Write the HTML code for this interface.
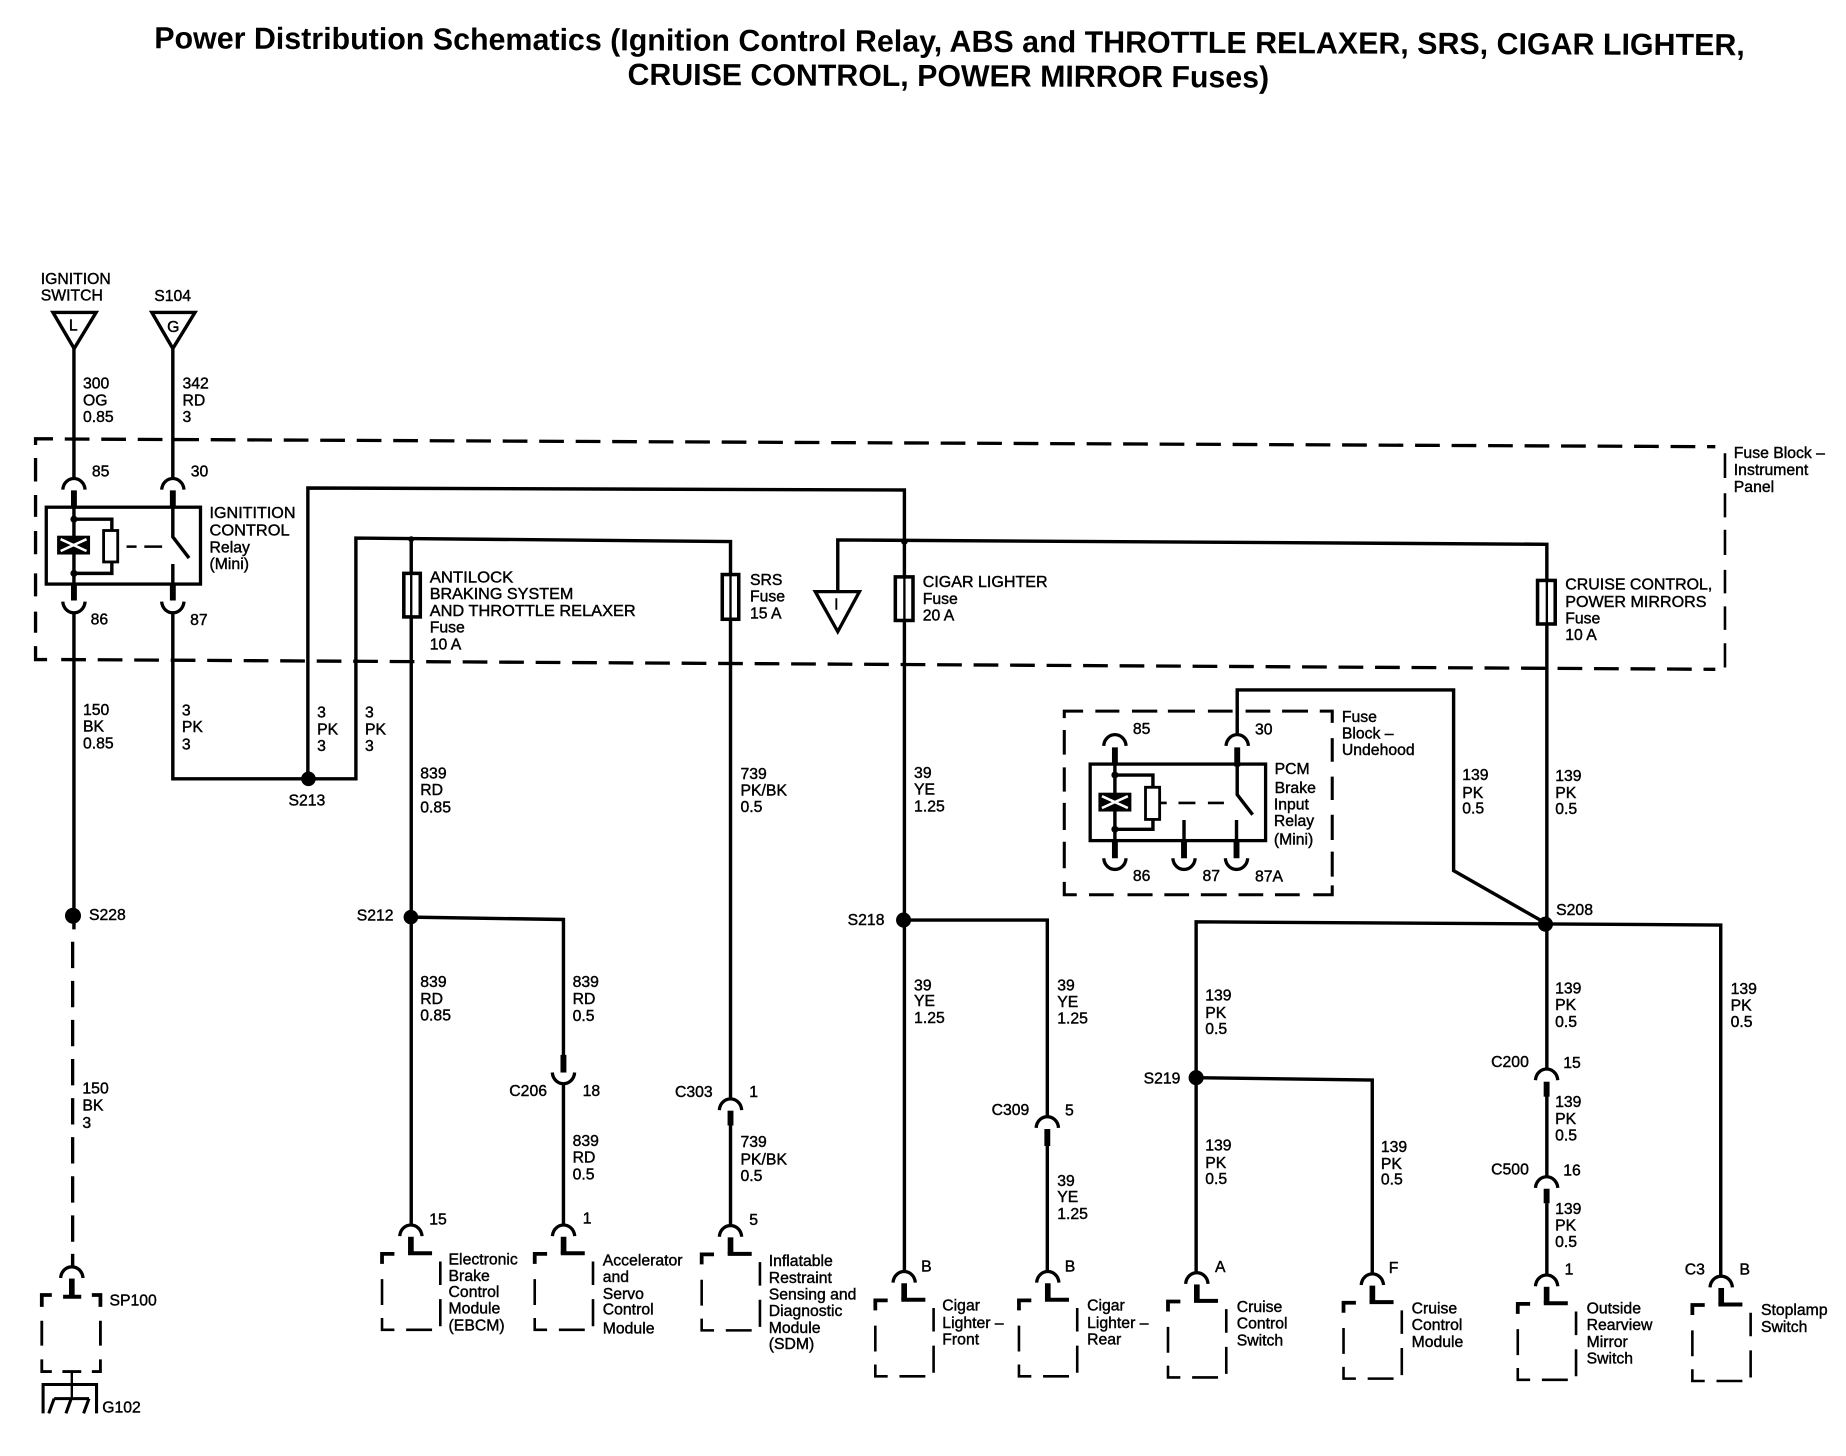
<!DOCTYPE html>
<html><head><meta charset="utf-8"><title>Power Distribution Schematics</title>
<style>
html,body{margin:0;padding:0;background:#fff}
svg{display:block}
text{font-family:"Liberation Sans",Arial,sans-serif;font-size:13.4px;fill:#000;stroke:#000;stroke-width:.35;dominant-baseline:central}
.t{font-weight:bold;font-size:26px;dominant-baseline:auto;stroke:none}
.w{fill:none;stroke:#000;stroke-width:2.9}
.k{fill:none;stroke:#000;stroke-width:5}
.d{fill:none;stroke:#000;stroke-width:2.8;stroke-dasharray:21 10}
</style></head><body>
<svg xmlns="http://www.w3.org/2000/svg" width="1846" height="1456" viewBox="0 0 1568 1236.7">
<defs>
<path id="a" d="M-9.5 9.5C-9 3-4 0 0 0C4 0 9 3 9.5 9.5" fill="none" stroke="#000" stroke-width="2.8"/>
<path id="b" d="M-9.5 0C-9 6.5-4 9.5 0 9.5C4 9.5 9 6.5 9.5 0" fill="none" stroke="#000" stroke-width="2.8"/>
<g id="m" fill="none" stroke="#000">
<use href="#a"/>
<path d="M0 10V24" stroke-width="4.8"/>
<path d="M-2.4 24H18" stroke-width="3.4"/>
<path d="M-24.5 33V24.5H-14" stroke-width="3.2"/>
<path d="M-24.5 46V68M-24.5 79V89H-14M-4 89H18M25 31V51M25 63V86" stroke-width="2.2"/>
</g>
<g id="x"><rect x="0" y="0" width="28" height="16" fill="#000"/><path d="M3 3L25 13M3 13L25 3" stroke="#fff" stroke-width="2.2"/></g>
</defs>
<rect width="1568" height="1237" fill="#fff"/>

<!-- Title -->
<text class="t" x="131" y="41" textLength="1351" lengthAdjust="spacingAndGlyphs" transform="rotate(.25 131 41)">Power Distribution Schematics (Ignition Control Relay, ABS and THROTTLE RELAXER, SRS, CIGAR LIGHTER,</text>
<text class="t" x="533" y="72" textLength="545" lengthAdjust="spacingAndGlyphs" transform="rotate(.25 533 72)">CRUISE CONTROL, POWER MIRROR Fuses)</text>

<!-- Main dashed fuse block -->
<path class="d" d="M55 372.9L1457 379.4M52 560.2L1457 568.5"/>
<path d="M45 372.7H30.2V378M30.2 389V409M30.2 420.4V439M30.2 451V470.8M30.2 487V506.5M30.2 519.5V537.4M30.2 548.8V560.2H40" fill="none" stroke="#000" stroke-width="2.8"/>
<path d="M1465.2 385V406M1465.2 419V439.4M1465.2 450V471.4M1465.2 484V504M1465.2 515V535M1465.2 546.4V567" fill="none" stroke="#000" stroke-width="2.2"/>
<text x="1472.7" y="385">Fuse Block –</text>
<text x="1472.7" y="399.7">Instrument</text>
<text x="1472.7" y="413.9">Panel</text>

<!-- Ignition triangles -->
<path class="w" d="M45 265.4H81.6L63 296Z"/>
<path class="w" d="M129 265.4H165.6L146.8 296Z"/>
<text x="58.5" y="277" font-size="12">L</text>
<text x="142" y="278">G</text>
<text x="34.6" y="237.4">IGNITION</text>
<text x="34.6" y="251.4">SWITCH</text>
<text x="131" y="252">S104</text>

<!-- Wires -->
<g class="w">
<path class="w" d="M62.8 296V406M146.8 296V406"/>
<path class="w" d="M62.8 521V789.4"/>
<path class="w" d="M146.8 521V661.5H302.3V457L620.5 460V933M620.5 956V1041"/>
<path class="w" d="M349.3 457.5V1041"/>
<path class="w" d="M261.5 661.5V414.5L768.2 416.2V1080"/>
<path class="w" d="M711.6 502V458.6L1313.9 462.3V908M1313.9 931V999.5M1313.9 1022V1083"/>
<path class="w" d="M349 779L478.6 781V897M478.6 920V1041"/>
<path class="w" d="M767 781.5H889.6V948.5M889.6 973V1080"/>
<path class="w" d="M1016 1081V783L1461.6 785.7V1084"/>
<path class="w" d="M1016 915.4L1165.6 917.4V1082"/>
<path class="w" d="M1050.9 625V586H1234.7V739.5L1312.7 784"/>
<path d="M61.7 799.9V1054.7" fill="none" stroke="#000" stroke-width="2.8" stroke-dasharray="22.4 10.8"/>
<path class="w" d="M61.7 1065V1076"/>
</g>

<!-- Ignition relay -->
<rect x="39.3" y="430.8" width="131" height="65.3" fill="none" stroke="#000" stroke-width="2.8"/>
<use href="#a" x="62.8" y="406.4"/><use href="#a" x="146.8" y="406.4"/>
<use href="#b" x="62.8" y="511"/><use href="#b" x="146.8" y="511"/>
<path class="k" d="M62.8 416.5V431M146.8 416.5V431M62.8 496V510M146.8 496V510"/>
<path class="w" d="M62.8 431V496M62.8 441H95V451M95 477V487H62.8M146.8 431V456L160.6 474M146.8 479V496"/>
<rect x="88" y="450.6" width="12" height="26.7" fill="#fff" stroke="#000" stroke-width="2.4"/>
<use href="#x" x="48.5" y="455"/>
<path d="M107.5 464.3H116M122.6 464.3H137.7" stroke="#000" stroke-width="2.2"/>
<circle cx="62.8" cy="441" r="3"/><circle cx="62.8" cy="487" r="3"/>
<text x="78" y="401">85</text><text x="162" y="401">30</text>
<text x="77" y="526.7">86</text><text x="161.5" y="527">87</text>
<text x="178" y="436" textLength="73" lengthAdjust="spacingAndGlyphs">IGNITITION</text>
<text x="178" y="451" textLength="68" lengthAdjust="spacingAndGlyphs">CONTROL</text>
<text x="178" y="465.6">Relay</text>
<text x="178" y="479.6">(Mini)</text>

<!-- Fuses -->
<g fill="#fff" stroke="#000" stroke-width="3">
<rect x="343" y="487" width="14" height="37"/>
<rect x="613.5" y="488" width="14" height="38"/>
<rect x="760.5" y="490" width="15" height="37"/>
<rect x="1306" y="493" width="15" height="37"/>
</g>
<path d="M349.3 487V524M620.5 488V526M768.2 490V527M1313.9 493V530" stroke="#000" stroke-width="2"/>
<text x="365" y="491" textLength="71" lengthAdjust="spacingAndGlyphs">ANTILOCK</text>
<text x="365" y="505" textLength="122" lengthAdjust="spacingAndGlyphs">BRAKING SYSTEM</text>
<text x="365" y="519.5" textLength="175" lengthAdjust="spacingAndGlyphs">AND THROTTLE RELAXER</text>
<text x="365" y="533.5">Fuse</text>
<text x="365" y="548">10 A</text>
<text x="637" y="493">SRS</text><text x="637" y="507">Fuse</text><text x="637" y="521.5">15 A</text>
<text x="783.8" y="494.9" textLength="106" lengthAdjust="spacingAndGlyphs">CIGAR LIGHTER</text><text x="783.8" y="509">Fuse</text><text x="783.8" y="523.2">20 A</text>
<text x="1329.5" y="496.8" textLength="125" lengthAdjust="spacingAndGlyphs">CRUISE CONTROL,</text><text x="1329.5" y="511.6" textLength="120" lengthAdjust="spacingAndGlyphs">POWER MIRRORS</text><text x="1329.5" y="525.7">Fuse</text><text x="1329.5" y="539.9">10 A</text>
<path d="M692.5 502.5H730L711.6 536.5Z" fill="#fff" stroke="#000" stroke-width="2.8"/>
<text x="708.5" y="514" font-size="12">I</text>

<!-- Wire labels upper -->
<text x="70.5" y="326">300</text><text x="70.5" y="340.5">OG</text><text x="70.5" y="354.7">0.85</text>
<text x="155" y="326">342</text><text x="155" y="340.5">RD</text><text x="155" y="354.7">3</text>
<text x="70.5" y="603.4">150</text><text x="70.5" y="617.7">BK</text><text x="70.5" y="632">0.85</text>
<text x="154.5" y="604">3</text><text x="154.5" y="618">PK</text><text x="154.5" y="632.6">3</text>
<text x="269.4" y="605.6">3</text><text x="269.4" y="620">PK</text><text x="269.4" y="634">3</text>
<text x="310" y="605.6">3</text><text x="310" y="620">PK</text><text x="310" y="634">3</text>
<text x="245" y="680.4">S213</text>
<text x="357" y="657.6">839</text><text x="357" y="671.6">RD</text><text x="357" y="686.2">0.85</text>
<text x="629" y="658">739</text><text x="629" y="672">PK/BK</text><text x="629" y="686">0.5</text>
<text x="776.4" y="657">39</text><text x="776.4" y="671">YE</text><text x="776.4" y="685.5">1.25</text>
<text x="1242" y="658.8">139</text><text x="1242" y="673.8">PK</text><text x="1242" y="687.1">0.5</text>
<text x="1321" y="659.5">139</text><text x="1321" y="674">PK</text><text x="1321" y="687.5">0.5</text>

<!-- PCM relay -->
<path d="M930.4 604H950.8M961.5 604H983M992 604H1015M1026 604H1047M1058 604H1079M1089 604H1111M1121 604H1131.6V614M1131.6 627V647M1131.6 659.7V679.5M1131.6 692V713.5M1131.6 723.4V744.6M1131.6 752V760H1115.5M1104 760H1083M1073 760H1052M1042 760H1020M1010 760H989M979 760H957.7M946 760H925M914.6 760H904V749M904 737.5V715M904 705V682M904 672.4V651.8M904 641V620M904 610V604H920" fill="none" stroke="#000" stroke-width="2.6"/>
<rect x="926" y="649" width="149" height="65" fill="none" stroke="#000" stroke-width="2.8"/>
<use href="#a" x="947" y="624"/><use href="#a" x="1050.9" y="624"/>
<use href="#b" x="947" y="729"/><use href="#b" x="1005.7" y="729"/><use href="#b" x="1050.3" y="729"/>
<path class="k" d="M947 634.8V650M1050.9 634.8V651M947 714V729M1005.7 714V729M1050.3 714V729"/>
<path class="w" d="M947 650V714M947 658.3H979.3V669M979.3 696V704.4H947M1050.9 651V675L1064 692M1050.3 696.5V714M1005.7 696.5V714"/>
<rect x="973" y="668.7" width="12" height="27.3" fill="#fff" stroke="#000" stroke-width="2.4"/>
<use href="#x" x="933" y="673.3"/>
<path d="M986 682H991M1001 682H1015.4M1026 682H1039.6" stroke="#000" stroke-width="2.2"/>
<circle cx="947" cy="658.3" r="3"/><circle cx="947" cy="704.4" r="3"/>
<text x="962.3" y="619.5">85</text><text x="1066" y="620">30</text>
<text x="962.3" y="744.6">86</text><text x="1021.4" y="744.6">87</text><text x="1066" y="745">87A</text>
<text x="1082.7" y="653.5">PCM</text><text x="1082.7" y="669.6">Brake</text><text x="1082" y="683.7">Input</text><text x="1082" y="697.9">Relay</text><text x="1082" y="713.5">(Mini)</text>
<text x="1139.8" y="609.3">Fuse</text><text x="1139.8" y="623.4">Block –</text><text x="1139.8" y="637.6">Undehood</text>

<!-- Splices -->
<circle cx="262" cy="661.5" r="6.2"/>
<circle cx="62" cy="777.8" r="6.8"/>
<circle cx="349" cy="779" r="6.2"/>
<circle cx="767.5" cy="781.5" r="6.4"/>
<circle cx="1312.7" cy="785" r="6.4"/>
<circle cx="1016" cy="915.4" r="6.4"/>
<circle cx="349.3" cy="458" r="2.5"/>
<circle cx="768.2" cy="460" r="2.8"/>
<text x="75.6" y="777.8">S228</text>
<text x="303" y="778">S212</text>
<text x="720" y="782">S218</text>
<text x="1321.8" y="773.5">S208</text>
<text x="971.4" y="916.5">S219</text>

<!-- Lower wire labels -->
<text x="70" y="925">150</text><text x="70" y="939.4">BK</text><text x="70" y="954.2">3</text>
<text x="357" y="834.4">839</text><text x="357" y="848.8">RD</text><text x="357" y="863">0.85</text>
<text x="486.4" y="834.4">839</text><text x="486.4" y="848.8">RD</text><text x="486.4" y="863.5">0.5</text>
<text x="486.4" y="969.7">839</text><text x="486.4" y="983.8">RD</text><text x="486.4" y="998">0.5</text>
<text x="629" y="970.5">739</text><text x="629" y="985.2">PK/BK</text><text x="629" y="999.4">0.5</text>
<text x="776.4" y="837.3">39</text><text x="776.4" y="850.8">YE</text><text x="776.4" y="865">1.25</text>
<text x="898" y="837.3">39</text><text x="898" y="851.5">YE</text><text x="898" y="865.5">1.25</text>
<text x="898" y="1003.7">39</text><text x="898" y="1017.3">YE</text><text x="898" y="1031.5">1.25</text>
<text x="1023.7" y="846">139</text><text x="1023.7" y="860.8">PK</text><text x="1023.7" y="874.3">0.5</text>
<text x="1023.7" y="973.4">139</text><text x="1023.7" y="988.1">PK</text><text x="1023.7" y="1001.7">0.5</text>
<text x="1172.9" y="974.6">139</text><text x="1172.9" y="989">PK</text><text x="1172.9" y="1002.3">0.5</text>
<text x="1320.9" y="840">139</text><text x="1320.9" y="854.2">PK</text><text x="1320.9" y="868.4">0.5</text>
<text x="1320.9" y="936.3">139</text><text x="1320.9" y="951.1">PK</text><text x="1320.9" y="964.7">0.5</text>
<text x="1320.9" y="1027.2">139</text><text x="1320.9" y="1041.4">PK</text><text x="1320.9" y="1055.2">0.5</text>
<text x="1470" y="840.3">139</text><text x="1470" y="854.5">PK</text><text x="1470" y="868.7">0.5</text>

<!-- Inline connectors -->
<use href="#b" x="478.6" y="911"/><path class="k" d="M478.6 896V911"/>
<use href="#a" x="620.5" y="933.4"/><path class="k" d="M620.5 943.4V956"/>
<use href="#a" x="889.6" y="948.5"/><path class="k" d="M889.6 959V973.4"/>
<use href="#a" x="1313.7" y="908"/><path class="k" d="M1313.7 918.8V931.5"/>
<use href="#a" x="1313.7" y="999.5"/><path class="k" d="M1313.7 1009.7V1022.1"/>
<text x="432.6" y="927.2">C206</text><text x="494.9" y="927.2">18</text>
<text x="573.3" y="927.8">C303</text><text x="636.4" y="928">1</text>
<text x="842.3" y="943.4">C309</text><text x="904.6" y="943.6">5</text>
<text x="1266.6" y="902.4">C200</text><text x="1327.8" y="903.2">15</text>
<text x="1266.6" y="993.8">C500</text><text x="1327.8" y="994.7">16</text>

<!-- Modules -->
<use href="#m" x="349" y="1040.5"/>
<use href="#m" x="478.7" y="1040.5"/>
<use href="#m" x="620.5" y="1041"/>
<use href="#m" x="768" y="1080"/>
<use href="#m" x="890" y="1080"/>
<use href="#m" x="1016.6" y="1081"/>
<use href="#m" x="1165.7" y="1082"/>
<use href="#m" x="1313.7" y="1083"/>
<use href="#m" x="1462" y="1084"/>
<text x="364.6" y="1036.3">15</text><text x="495" y="1035.6">1</text><text x="636.4" y="1036.8">5</text>
<text x="782.4" y="1076">B</text><text x="904.4" y="1076">B</text><text x="1032" y="1076.8">A</text><text x="1179.6" y="1077.3">F</text><text x="1329" y="1078.7">1</text><text x="1431" y="1078.7">C3</text><text x="1477.5" y="1078.7">B</text>
<text x="381" y="1070.3">Electronic</text><text x="381" y="1084.4">Brake</text><text x="381" y="1097.7">Control</text><text x="381" y="1111.9">Module</text><text x="381" y="1126.3">(EBCM)</text>
<text x="512" y="1071">Accelerator</text><text x="512" y="1085">and</text><text x="512" y="1099.4">Servo</text><text x="512" y="1112.7">Control</text><text x="512" y="1128.9">Module</text>
<text x="653" y="1071.7">Inflatable</text><text x="653" y="1085.8">Restraint</text><text x="653" y="1100">Sensing and</text><text x="653" y="1114">Diagnostic</text><text x="653" y="1128.3">Module</text><text x="653" y="1142">(SDM)</text>
<text x="800.4" y="1109.3">Cigar</text><text x="800.4" y="1124">Lighter –</text><text x="800.4" y="1138.2">Front</text>
<text x="923.4" y="1109.3">Cigar</text><text x="923.4" y="1124">Lighter –</text><text x="923.4" y="1138.2">Rear</text>
<text x="1050.5" y="1110.5">Cruise</text><text x="1050.5" y="1124.6">Control</text><text x="1050.5" y="1139">Switch</text>
<text x="1199" y="1111.9">Cruise</text><text x="1199" y="1126">Control</text><text x="1199" y="1140.2">Module</text>
<text x="1347.7" y="1111.9">Outside</text><text x="1347.7" y="1126">Rearview</text><text x="1347.7" y="1140.2">Mirror</text><text x="1347.7" y="1154.3">Switch</text>
<text x="1495.8" y="1113.3">Stoplamp</text><text x="1495.8" y="1127.4">Switch</text>

<!-- SP100 + ground -->
<use href="#a" x="61" y="1076"/>
<path d="M61 1086V1101" stroke="#000" stroke-width="4.8"/>
<path d="M53.6 1101.5H69" stroke="#000" stroke-width="3.4"/>
<path d="M35.5 1110V1100H44M78 1100H85.3V1110" fill="none" stroke="#000" stroke-width="3.2"/>
<path d="M35.5 1121.8V1143M85.3 1121.8V1143M35.5 1154.6V1165H44M53 1165H69M78 1165H85.3V1154.6" fill="none" stroke="#000" stroke-width="2.4"/>
<path d="M61 1165V1188" stroke="#000" stroke-width="2"/>
<path d="M36.6 1200.5V1176H82V1200.5" fill="none" stroke="#000" stroke-width="2.6"/>
<path d="M46 1188H75.6M46 1188L41.4 1200.5M60.5 1188L56 1200.5M75.6 1188L71 1200.5" fill="none" stroke="#000" stroke-width="2.6"/>
<text x="93" y="1105">SP100</text>
<text x="86.8" y="1196">G102</text>
</svg>
</body></html>
